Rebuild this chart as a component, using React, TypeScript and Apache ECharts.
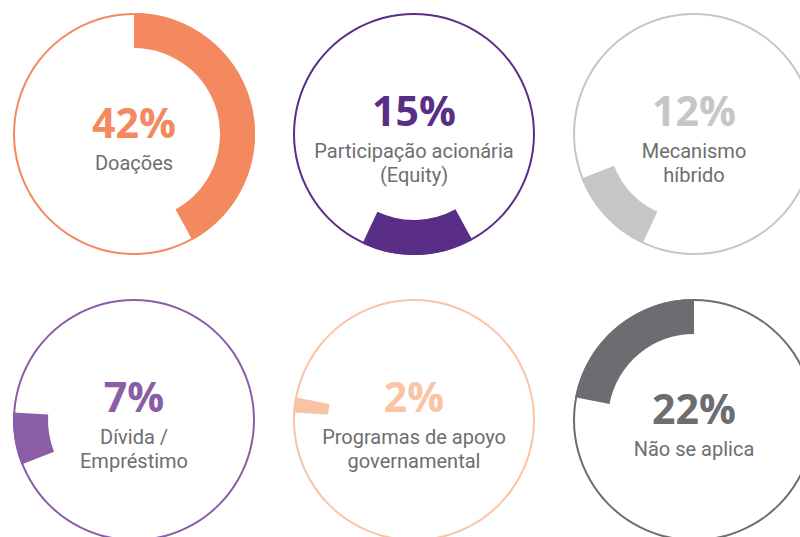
import React, { useEffect, useRef } from "react";
import * as echarts from "echarts";

const categories = [
  "Doações",
  "Participação acionária\n(Equity)",
  "Mecanismo\nhíbrido",
  "Dívida /\nEmpréstimo",
  "Programas de apoyo\ngovernamental",
  "Não se aplica",
];
const values = [42, 15, 12, 7, 2, 22];
const colors = ["#F4895F", "#5A2D86", "#C5C6C8", "#8A5DA6", "#FBC3A5", "#6C6D71"];
const labelColor = "#6D6E71";

const centersX = [134, 414, 694];
const centersY = [134, 420];

export default function App() {
  const ref = useRef<HTMLDivElement>(null);
  useEffect(() => {
    if (!ref.current) return;
    const chart = echarts.init(ref.current, undefined, { renderer: "svg" });
    const series: any[] = [];
    const graphics: any[] = [];
    let cum = 0;
    values.forEach((v, i) => {
      const cx = centersX[i % 3];
      const cy = centersY[Math.floor(i / 3)];
      const before = cum;
      const after = 100 - cum - v;
      cum += v;
      series.push({
        type: "pie",
        center: [cx, cy],
        radius: [119, 121],
        silent: true,
        label: { show: false },
        labelLine: { show: false },
        itemStyle: { color: colors[i], borderWidth: 0 },
        data: [{ value: 1, name: "ring" + i }],
      });
      series.push({
        type: "pie",
        center: [cx, cy],
        radius: [86, 121],
        startAngle: 90,
        clockwise: true,
        minAngle: 0,
        silent: true,
        avoidLabelOverlap: false,
        label: { show: false },
        labelLine: { show: false },
        data: [
          { value: before, name: "before", itemStyle: { color: "rgba(0,0,0,0)", borderWidth: 0 } },
          { value: v, name: categories[i], itemStyle: { color: colors[i], borderWidth: 0 } },
          { value: after, name: "after", itemStyle: { color: "rgba(0,0,0,0)", borderWidth: 0 } },
        ],
      });
      const lines = categories[i].split("\n");
      const py = cy - 12 - 12 * (lines.length - 1);
      graphics.push({
        type: "text",
        x: cx,
        y: py,
        style: {
          text: v + "%",
          fill: colors[i],
          font: "bold 41px 'Open Sans'",
          textAlign: "center",
          textVerticalAlign: "middle",
        },
      });
      lines.forEach((line, k) => {
        graphics.push({
          type: "text",
          x: cx,
          y: py + 41 + 23.5 * k,
          style: {
            text: line,
            fill: labelColor,
            font: "20px Roboto",
            textAlign: "center",
            textVerticalAlign: "middle",
          },
        });
      });
    });
    chart.setOption({
      animation: false,
      backgroundColor: "#ffffff",
      series,
      graphic: graphics,
    });
    return () => chart.dispose();
  }, []);
  return (
    <div
      ref={ref}
      style={{ position: "absolute", left: 0, top: 0, width: 800, height: 537 }}
    />
  );
}
